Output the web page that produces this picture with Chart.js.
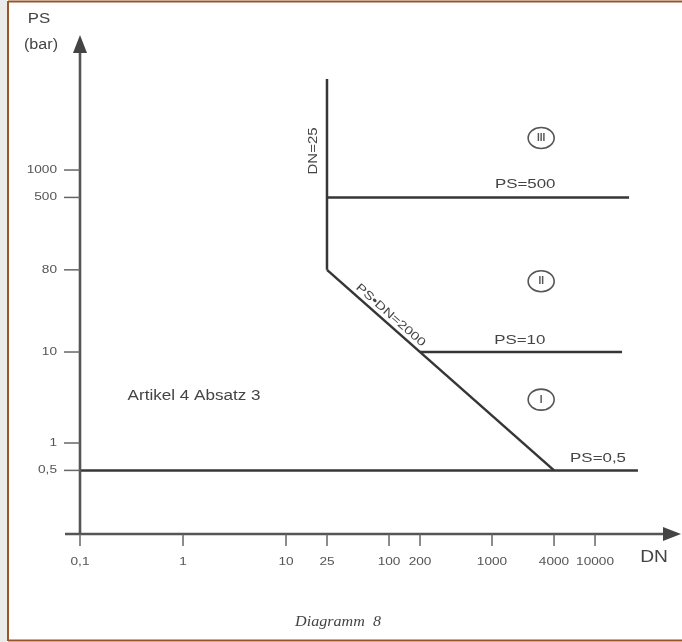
<!DOCTYPE html>
<html>
<head>
<meta charset="utf-8">
<script src="https://cdn.jsdelivr.net/npm/chart.js@4.4.1/dist/chart.umd.min.js"></script>
<style>
  html, body { margin: 0; padding: 0; background: #fff; }
  canvas { display: block; }
</style>
</head>
<body>
<canvas id="ch8" width="682" height="642"></canvas>
<script>
// axis ticks (DN and PS, both logarithmic)
const xTicks = [0.1, 1, 10, 25, 100, 200, 1000, 4000, 10000];
const xTickLabels = ['0,1', '1', '10', '25', '100', '200', '1000', '4000', '10000'];
const yTicks = [0.5, 1, 10, 80, 500, 1000];
const yTickLabels = ['0,5', '1', '10', '80', '500', '1000'];

// boundary lines of the diagram
const lineDN25 = [{x: 25, y: 10000}, {x: 25, y: 80}];
const linePSDN = [{x: 25, y: 80}, {x: 4000, y: 0.5}];
const linePS500 = [{x: 25, y: 500}, {x: 21400, y: 500}];
const linePS10 = [{x: 200, y: 10}, {x: 18300, y: 10}];
const linePS05 = [{x: 0.1, y: 0.5}, {x: 26100, y: 0.5}];

// categories (circled roman numerals)
const zoneNames = ['III', 'II', 'I'];
const zoneDN = [3000, 3000, 3000];
const zonePS = [2250, 60, 3];

const lineColor = '#363636';

function txt(ctx, s, x, y, font, align, sx, color) {
  ctx.save();
  ctx.font = font;
  ctx.fillStyle = color || '#444';
  ctx.textAlign = align || 'center';
  ctx.textBaseline = 'middle';
  ctx.translate(x, y);
  ctx.scale(sx || 1.3, 1);
  ctx.fillText(s, 0, 0);
  ctx.restore();
}

const framePlugin = {
  id: 'frame',
  beforeDraw(chart) {
    const ctx = chart.ctx;
    ctx.save();
    ctx.fillStyle = '#fff';
    ctx.fillRect(0, 0, chart.width, chart.height);
    ctx.fillStyle = '#ebebea';
    ctx.fillRect(0, 0, 7, chart.height);
    ctx.strokeStyle = '#9a5428';
    ctx.lineWidth = 2;
    ctx.beginPath();
    ctx.moveTo(8, 1.5); ctx.lineTo(chart.width, 1.5);
    ctx.moveTo(8, 1); ctx.lineTo(8, 641);
    ctx.moveTo(8, 640.5); ctx.lineTo(chart.width, 640.5);
    ctx.stroke();
    ctx.restore();
  }
};

const axesPlugin = {
  id: 'axes',
  afterDatasetsDraw(chart) {
    const ctx = chart.ctx;
    const xs = chart.scales.x, ys = chart.scales.y;
    const x0 = xs.getPixelForValue(0.1);
    const y0 = ys.getPixelForValue(0.1);
    ctx.save();
    ctx.strokeStyle = '#555';
    ctx.fillStyle = '#444';
    ctx.lineWidth = 2.6;
    // y axis + arrow
    ctx.beginPath();
    ctx.moveTo(x0, y0 + 1); ctx.lineTo(x0, 50);
    ctx.stroke();
    ctx.beginPath();
    ctx.moveTo(x0, 35); ctx.lineTo(x0 - 7, 53); ctx.lineTo(x0 + 7, 53); ctx.closePath();
    ctx.fill();
    // x axis + arrow
    ctx.beginPath();
    ctx.moveTo(65, y0); ctx.lineTo(666, y0);
    ctx.stroke();
    ctx.beginPath();
    ctx.moveTo(681, y0); ctx.lineTo(663, y0 - 7); ctx.lineTo(663, y0 + 7); ctx.closePath();
    ctx.fill();

    // ticks
    ctx.strokeStyle = '#666';
    ctx.lineWidth = 1.5;
    xTicks.forEach((v, i) => {
      const px = xs.getPixelForValue(v);
      ctx.beginPath();
      ctx.moveTo(px, y0); ctx.lineTo(px, y0 + 12);
      ctx.stroke();
      txt(ctx, xTickLabels[i], px, y0 + 28, '10.5px "Liberation Sans", Arial', 'center', 1.3, '#555');
    });
    yTicks.forEach((v, i) => {
      const py = ys.getPixelForValue(v);
      ctx.beginPath();
      ctx.moveTo(x0 - 16, py); ctx.lineTo(x0, py);
      ctx.stroke();
      txt(ctx, yTickLabels[i], x0 - 23, py, '10.5px "Liberation Sans", Arial', 'right', 1.3, '#555');
    });

    // axis titles
    txt(ctx, 'PS', x0 - 41, 19, '14px "Liberation Sans", Arial', 'center', 1.2, '#444');
    txt(ctx, '(bar)', x0 - 39, 45, '14px "Liberation Sans", Arial', 'center', 1.15, '#444');
    txt(ctx, 'DN', 654, y0 + 24, '16px "Liberation Sans", Arial', 'center', 1.2, '#444');

    // line labels
    const f13 = '13px "Liberation Sans", Arial';
    txt(ctx, 'PS=500', xs.getPixelForValue(2100), ys.getPixelForValue(500) - 13, f13, 'center', 1.3);
    txt(ctx, 'PS=10', xs.getPixelForValue(1860), ys.getPixelForValue(10) - 12, f13, 'center', 1.3);
    txt(ctx, 'PS=0,5', xs.getPixelForValue(10700), ys.getPixelForValue(0.5) - 12, f13, 'center', 1.3);
    txt(ctx, 'Artikel 4 Absatz 3', xs.getPixelForValue(1.28), ys.getPixelForValue(3.28), '14px "Liberation Sans", Arial', 'center', 1.22);

    // DN=25 (vertical)
    ctx.save();
    ctx.translate(xs.getPixelForValue(25) - 14, ys.getPixelForValue(1620));
    ctx.rotate(-Math.PI / 2);
    ctx.font = '13px "Liberation Sans", Arial';
    ctx.fillStyle = '#444';
    ctx.textAlign = 'center';
    ctx.textBaseline = 'middle';
    ctx.scale(1.15, 1);
    ctx.fillText('DN=25', 0, 0);
    ctx.restore();

    // PS·DN=2000 along the diagonal
    const ax = xs.getPixelForValue(linePSDN[0].x), ay = ys.getPixelForValue(linePSDN[0].y);
    const bx = xs.getPixelForValue(linePSDN[1].x), by = ys.getPixelForValue(linePSDN[1].y);
    const ang = Math.atan2(by - ay, bx - ax);
    const mx = xs.getPixelForValue(92), my = ys.getPixelForValue(2000 / 92);
    ctx.save();
    ctx.translate(mx + 8 * Math.sin(ang), my - 8 * Math.cos(ang));
    ctx.rotate(ang);
    ctx.font = '11.5px "Liberation Sans", Arial';
    ctx.fillStyle = '#444';
    ctx.textAlign = 'center';
    ctx.textBaseline = 'middle';
    ctx.scale(1.3, 1);
    ctx.fillText('PS\u2022DN=2000', 0, 0);
    ctx.restore();

    // circled category numbers
    zoneNames.forEach((n, i) => {
      const cx = xs.getPixelForValue(zoneDN[i]);
      const cy = ys.getPixelForValue(zonePS[i]);
      ctx.strokeStyle = '#555';
      ctx.lineWidth = 1.6;
      ctx.beginPath();
      ctx.ellipse(cx, cy, 13, 10.5, 0, 0, Math.PI * 2);
      ctx.stroke();
      txt(ctx, n, cx, cy + 0.5, 'bold 10px "Liberation Sans", Arial', 'center', 1.0, '#555');
    });

    // caption
    txt(ctx, 'Diagramm  8', 338, 622, 'italic 14px "Liberation Serif", serif', 'center', 1.15, '#444');
    ctx.restore();
  }
};

function lineSet(data) {
  return {
    data: data,
    showLine: true,
    borderColor: lineColor,
    borderWidth: 2.5,
    pointRadius: 0,
    fill: false
  };
}

new Chart(document.getElementById('ch8'), {
  type: 'scatter',
  data: {
    datasets: [
      lineSet(lineDN25),
      lineSet(linePSDN),
      lineSet(linePS500),
      lineSet(linePS10),
      lineSet(linePS05)
    ]
  },
  options: {
    responsive: false,
    animation: false,
    devicePixelRatio: 1,
    layout: { padding: { left: 80, right: 2, top: 36, bottom: 108 } },
    scales: {
      x: { type: 'logarithmic', min: 0.1, max: Math.pow(10, 4.825), display: false },
      y: { type: 'logarithmic', min: 0.1, max: Math.pow(10, 4.473), display: false }
    },
    plugins: {
      legend: { display: false },
      tooltip: { enabled: false }
    }
  },
  plugins: [framePlugin, axesPlugin]
});
</script>
</body>
</html>
